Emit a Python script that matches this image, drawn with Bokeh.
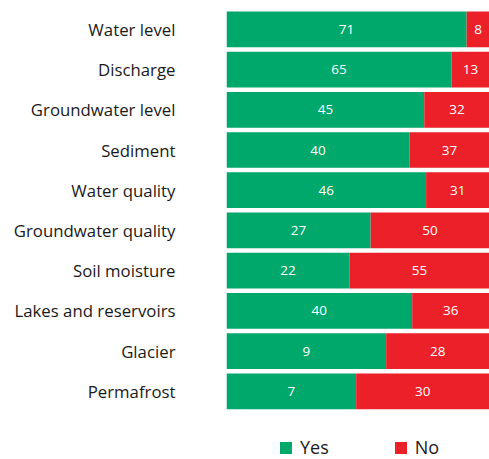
from bokeh.plotting import figure
from bokeh.models import ColumnDataSource, Range1d, Legend, LegendItem, FixedTicker
from bokeh.core.properties import value
from bokeh.embed import file_html
from bokeh.resources import INLINE

categories = ["Water level", "Discharge", "Groundwater level", "Sediment", "Water quality",
              "Groundwater quality", "Soil moisture", "Lakes and reservoirs", "Glacier", "Permafrost"]
yes_counts = [71, 65, 45, 40, 46, 27, 22, 40, 9, 7]
no_counts = [8, 13, 32, 37, 31, 50, 55, 36, 28, 30]
# share of the bar drawn as "Yes" (percent)
yes_share = [91.3, 85.6, 75.2, 69.6, 75.9, 54.8, 46.8, 70.6, 60.7, 49.3]

GREEN = "#00a86b"
RED = "#ec2028"
FONT = "Open Sans"

rows = list(range(len(categories)))
src = ColumnDataSource(dict(
    row=rows,
    yes=yes_share,
    full=[100] * len(categories),
    yes_mid=[s / 2 for s in yes_share],
    no_mid=[(s + 100) / 2 for s in yes_share],
    yes_lbl=[str(v) for v in yes_counts],
    no_lbl=[str(v) for v in no_counts],
))

# rows run top to bottom; extra room at the bottom of the frame holds the legend
p = figure(frame_width=263, frame_height=459, output_backend="svg", toolbar_location=None,
           y_range=Range1d(10.695, -0.717), x_range=Range1d(0, 100), x_axis_location=None,
           min_border_left=226, min_border_right=0, min_border_top=0, min_border_bottom=0)
p.outline_line_color = None
p.xgrid.visible = False
p.ygrid.visible = False

r_yes = p.hbar(y="row", left=0, right="yes", height=0.888, source=src,
               fill_color=GREEN, line_color=None)
r_no = p.hbar(y="row", left="yes", right="full", height=0.888, source=src,
              fill_color=RED, line_color=None)

p.text(x="yes_mid", y="row", text="yes_lbl", source=src, text_color="white",
       text_font=value(FONT), text_font_size="13.5px", text_align="center", text_baseline="middle")
p.text(x="no_mid", y="row", text="no_lbl", source=src, text_color="white",
       text_font=value(FONT), text_font_size="13.5px", text_align="center", text_baseline="middle")

ax = p.yaxis[0]
ax.ticker = FixedTicker(ticks=rows)
ax.major_label_overrides = {i: c for i, c in zip(rows, categories)}
ax.axis_line_color = None
ax.major_tick_out = 0
ax.major_tick_in = 0
ax.minor_tick_out = 0
ax.minor_tick_in = 0
ax.major_label_standoff = 51
ax.major_label_text_font = FONT
ax.major_label_text_font_size = "16.8px"
ax.major_label_text_color = "#1a1a1a"

legend = Legend(items=[LegendItem(label="Yes", renderers=[r_yes]),
                       LegendItem(label="No", renderers=[r_no])],
                orientation="horizontal", location=(52, 0),
                glyph_width=15, glyph_height=15, label_standoff=7, spacing=64,
                label_text_font=FONT, label_text_font_size="18px", label_text_color="#1a1a1a",
                border_line_color=None, background_fill_alpha=0, padding=0, margin=0)
p.add_layout(legend, "center")

open("out.html", "w").write(file_html(p, INLINE))
